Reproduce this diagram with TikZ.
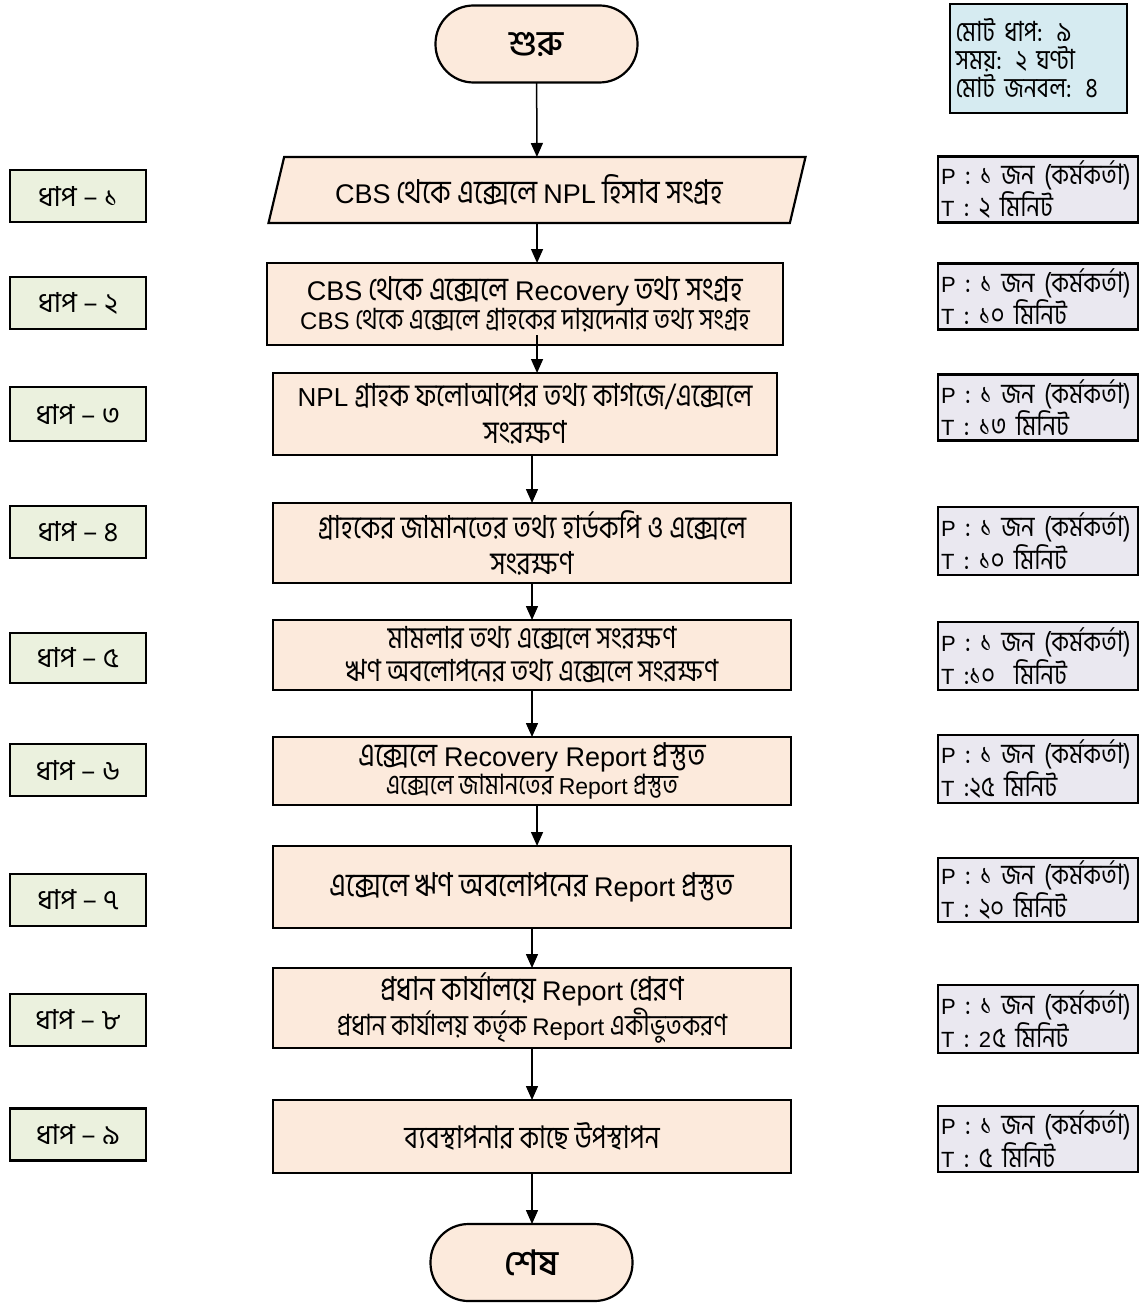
\documentclass[tikz,border=0pt]{standalone}
\usepackage{fontspec}
\setmainfont[Script=Bengali,FakeStretch=0.84,Scale=1.22]{Hind Siliguri}
\newfontfamily\bnwide[Script=Bengali,Scale=1.2]{Hind Siliguri}
\newfontfamily\bnterm[Script=Bengali,Scale=1.3]{Hind Siliguri Medium}
\newfontfamily\latinfont{Liberation Sans}
\newcommand{\en}[1]{{\latinfont #1}}
\newcommand{\lead}[1]{{\latinfont\fontsize{11}{14}\selectfont #1}}
\usetikzlibrary{arrows.meta,shapes.geometric}

\definecolor{procfill}{RGB}{252,234,220}
\definecolor{stepfill}{RGB}{235,241,222}
\definecolor{costfill}{RGB}{234,232,240}
\definecolor{infofill}{RGB}{214,235,241}

\tikzset{
  every node/.style={inner sep=0pt, outer sep=0pt},
  boxline/.style={draw=black, line width=1.1pt},
  proc/.style={boxline, fill=procfill, align=center},
  term/.style={boxline, fill=procfill, rounded corners=19pt, minimum width=101pt, minimum height=38.5pt,
    font=\bnterm\fontsize{13.5}{16}\selectfont},
  stepbox/.style={boxline, fill=stepfill, minimum width=68pt, minimum height=26pt,
    font=\bnwide\fontsize{11.5}{13}\selectfont},
  costbox/.style={boxline, fill=costfill, minimum width=100pt, minimum height=33pt, align=left,
    text width=97pt, font=\fontsize{11.6}{14}\selectfont},
  flow/.style={line width=0.75pt, -{Triangle[length=7pt,width=6pt]}},
  big/.style={font=\fontsize{13.5}{16.5}\selectfont},
}

\begin{document}
\begin{tikzpicture}[x=0.5pt,y=-0.5pt]
\useasboundingbox (0,0) rectangle (1141,1305);

% summary box
\node[boxline, fill=infofill, minimum width=88.5pt, minimum height=54.5pt, align=left,
  text width=83pt, font=\fontsize{11.4}{14}\selectfont] (info) at (1038.5,58.5)
  {মোট ধাপ: ৯\\সময়: ২ ঘণ্টা\\মোট জনবল: ৪};

% main flow
\node[term] (start) at (536.5,44) {শুরু};

\node[boxline, fill=procfill, trapezium, trapezium left angle=63, trapezium right angle=117,
  trapezium stretches body, minimum width=268.5pt, minimum height=33pt, big] (s1) at (537,190)
  {\en{CBS} থেকে এক্সেলে \en{NPL} হিসাব সংগ্রহ\hspace*{8pt}};

\node[proc, minimum width=258pt, minimum height=41pt] (s2) at (525,304)
  {{\fontsize{13.5}{17.5}\selectfont \en{CBS} থেকে এক্সেলে \en{Recovery} তথ্য সংগ্রহ}\\
   {\fontsize{12}{17.5}\selectfont \en{CBS} থেকে এক্সেলে গ্রাহকের দায়দেনার তথ্য সংগ্রহ}};

\node[proc, minimum width=252pt, minimum height=41pt, font=\fontsize{13}{18.5}\selectfont] (s3) at (525,414)
  {\en{NPL} গ্রাহক ফলোআপের তথ্য কাগজে/এক্সেলে\\সংরক্ষণ};

\node[proc, minimum width=259pt, minimum height=40pt, font=\fontsize{13}{18}\selectfont] (s4) at (532,543)
  {গ্রাহকের জামানতের তথ্য হার্ডকপি ও এক্সেলে\\সংরক্ষণ};

\node[proc, minimum width=259pt, minimum height=35pt, font=\fontsize{12.5}{16.5}\selectfont] (s5) at (532,655)
  {মামলার তথ্য এক্সেলে সংরক্ষণ\\ঋণ অবলোপনের তথ্য এক্সেলে সংরক্ষণ};

\node[proc, minimum width=259pt, minimum height=34pt] (s6) at (532,771)
  {{\fontsize{13.5}{16}\selectfont এক্সেলে \en{Recovery Report} প্রস্তুত}\\
   {\fontsize{11.5}{16}\selectfont এক্সেলে জামানতের \en{Report} প্রস্তুত}};

\node[proc, minimum width=259pt, minimum height=41pt, big] (s7) at (532,887)
  {এক্সেলে ঋণ অবলোপনের \en{Report} প্রস্তুত};

\node[proc, minimum width=259pt, minimum height=40pt] (s8) at (532,1008)
  {{\fontsize{13.5}{16.5}\selectfont প্রধান কার্যালয়ে \en{Report} প্রেরণ}\\
   {\fontsize{12}{16.5}\selectfont প্রধান কার্যালয় কর্তৃক \en{Report} একীভুতকরণ}};

\node[proc, minimum width=259pt, minimum height=36.5pt, font=\fontsize{12.8}{15}\selectfont] (s9) at (532,1136.5)
  {ব্যবস্থাপনার কাছে উপস্থাপন};

\node[term] (end) at (531.5,1262.5) {শেষ};

% connectors
\draw[flow] (start) -- (s1);
\draw[flow] (s1.south) -- (s1.south |- s2.north);
\draw[flow] ([yshift=5pt]s1.south |- s2.south) -- (s1.south |- s3.north);
\draw[flow] (s4.north |- s3.south) -- (s4.north);
\draw[flow] (s4) -- (s5);
\draw[flow] (s5) -- (s6);
\draw[flow] (s1.south |- s6.south) -- (s1.south |- s7.north);
\draw[flow] (s7) -- (s8);
\draw[flow] (s8) -- (s9);
\draw[flow] (s9.south) -- (s9.south |- end.north);

% step labels
\node[stepbox] (k1) at (78,196) {ধাপ – ১};
\node[stepbox] (k2) at (78,303) {ধাপ – ২};
\node[stepbox, minimum height=27pt] (k3) at (78,414) {ধাপ – ৩};
\node[stepbox] (k4) at (78,532) {ধাপ – ৪};
\node[stepbox, minimum height=25pt] (k5) at (78,658) {ধাপ – ৫};
\node[stepbox] (k6) at (78,770) {ধাপ – ৬};
\node[stepbox] (k7) at (78,900) {ধাপ – ৭};
\node[stepbox] (k8) at (78,1020) {ধাপ – ৮};
\node[stepbox] (k9) at (78,1134.5) {ধাপ – ৯};

% people and time
\node[costbox] (c1) at (1038,189.5) {\lead{P} : ১ জন (কর্মকর্তা)\\\lead{T} : ২ মিনিট};
\node[costbox] (c2) at (1038,296.5) {\lead{P} : ১ জন (কর্মকর্তা)\\\lead{T} : ১০ মিনিট};
\node[costbox] (c3) at (1038,407.5) {\lead{P} : ১ জন (কর্মকর্তা)\\\lead{T} : ১৩ মিনিট};
\node[costbox, minimum height=34pt] (c4) at (1038,541) {\lead{P} : ১ জন (কর্মকর্তা)\\\lead{T} : ১০ মিনিট};
\node[costbox, minimum height=34pt] (c5) at (1038,656) {\lead{P} : ১ জন (কর্মকর্তা)\\\lead{T} :১০ ~মিনিট};
\node[costbox, minimum height=34pt] (c6) at (1038,769) {\lead{P} : ১ জন (কর্মকর্তা)\\\lead{T} :২৫ মিনিট};
\node[costbox, minimum height=32pt] (c7) at (1038,890) {\lead{P} : ১ জন (কর্মকর্তা)\\\lead{T} : ২০ মিনিট};
\node[costbox, minimum height=34pt] (c8) at (1038,1019) {\lead{P} : ১ জন (কর্মকর্তা)\\\lead{T} : \lead{2}\kern0.6pt৫ মিনিট};
\node[costbox] (c9) at (1038,1139) {\lead{P} : ১ জন (কর্মকর্তা)\\\lead{T} : ৫ মিনিট};
\end{tikzpicture}
\end{document}
